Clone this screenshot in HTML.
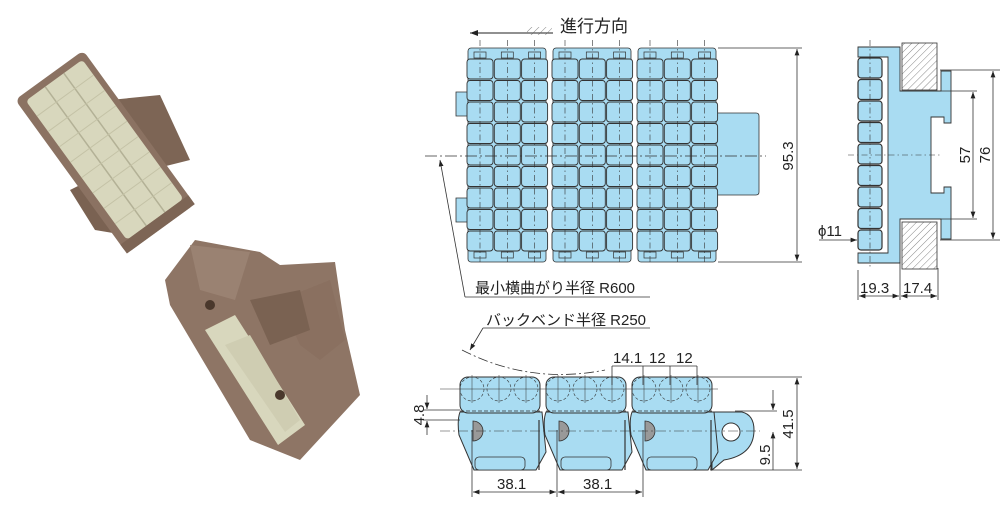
<!DOCTYPE html>
<html><head><meta charset="utf-8"><style>
html,body{margin:0;padding:0;background:#fff;width:1007px;height:512px;overflow:hidden}
svg{display:block}
text{font-family:"Liberation Sans","Noto Sans CJK JP",sans-serif;fill:#222}
</style></head><body>
<svg id="s" width="1007" height="512" viewBox="0 0 1007 512" xmlns="http://www.w3.org/2000/svg">
<defs>
<pattern id="h" width="5" height="5" patternUnits="userSpaceOnUse" patternTransform="rotate(45)"><line x1="0" y1="0" x2="0" y2="5" stroke="#555" stroke-width="0.7"/></pattern>
<marker id="a" markerWidth="8" markerHeight="6" refX="8" refY="3" orient="auto-start-reverse"><path d="M0,0 L8,3 L0,6z" fill="#222"/></marker>
</defs>
<!-- photo 1 -->
<polygon points="110,100 160,95 190,160 150,170" fill="#7d6555"/>
<polygon points="70,190 100,175 125,235 95,230" fill="#7a6252"/>
<g transform="translate(105,152) rotate(54)">
<rect x="-95" y="-42" width="190" height="84" rx="6" fill="#8b7262"/>
<rect x="-88" y="-36" width="172" height="70" rx="4" fill="#d8d7bd"/>
<g stroke="#b3b196" stroke-width="1.5">
<line x1="-88" y1="-13" x2="84" y2="-13"/><line x1="-88" y1="10" x2="84" y2="10"/>
</g>
<g id="rl" stroke="#c4c2a6" stroke-width="1"></g>
<rect x="84" y="-42" width="11" height="84" fill="#7d6555"/>
</g>
<!-- photo 2 -->
<g>
<polygon points="165,280 195,240 260,252 280,265 335,262 345,330 360,395 300,460 250,440 170,305" fill="#8e7565"/>
<polygon points="205,330 235,315 305,425 278,445" fill="#d8d7bd"/>
<polygon points="225,345 250,335 300,420 285,432" fill="#cfcdb2"/>
<polygon points="190,245 250,252 235,300 200,290" fill="#9a8272"/>
<polygon points="280,300 330,280 345,340 320,360 300,345" fill="#8a7060"/>
<polygon points="250,300 300,290 310,330 270,345" fill="#7a6252"/>
<circle cx="210" cy="305" r="5" fill="#4a382c"/><circle cx="280" cy="395" r="5" fill="#4a382c"/>
</g>
<g id="gtop"></g>
<g id="gside"></g>
<g id="gbot"></g>
<!-- top view annotations -->
<line x1="470" y1="33" x2="553" y2="33" stroke="#222" stroke-width="1" marker-start="url(#a)"/>
<rect x="527" y="27" width="25" height="8" fill="url(#h)"/>
<text x="560" y="32" font-size="17">進行方向</text>
<line x1="718" y1="48" x2="802" y2="48" stroke="#333" stroke-width="0.8"/>
<line x1="718" y1="262" x2="802" y2="262" stroke="#333" stroke-width="0.8"/>
<line x1="797" y1="49" x2="797" y2="261" stroke="#333" stroke-width="0.8" marker-start="url(#a)" marker-end="url(#a)"/>
<text transform="translate(793,156) rotate(-90)" font-size="15" text-anchor="middle">95.3</text>
<line x1="465" y1="297" x2="440" y2="160" stroke="#333" stroke-width="0.8" marker-end="url(#a)"/>
<line x1="465" y1="297" x2="650" y2="297" stroke="#333" stroke-width="0.8"/>
<text x="475" y="293" font-size="15">最小横曲がり半径 R600</text>
<!-- side annotations -->
<line x1="940" y1="70" x2="1000" y2="70" stroke="#333" stroke-width="0.8"/>
<line x1="940" y1="240" x2="1000" y2="240" stroke="#333" stroke-width="0.8"/>
<line x1="940" y1="91" x2="977" y2="91" stroke="#333" stroke-width="0.8"/>
<line x1="940" y1="219" x2="977" y2="219" stroke="#333" stroke-width="0.8"/>
<line x1="973" y1="92" x2="973" y2="218" stroke="#333" stroke-width="0.8" marker-start="url(#a)" marker-end="url(#a)"/>
<line x1="993" y1="71" x2="993" y2="239" stroke="#333" stroke-width="0.8" marker-start="url(#a)" marker-end="url(#a)"/>
<text transform="translate(970,155) rotate(-90)" font-size="15" text-anchor="middle">57</text>
<text transform="translate(990,155) rotate(-90)" font-size="15" text-anchor="middle">76</text>
<line x1="819" y1="240" x2="857" y2="240" stroke="#333" stroke-width="0.8" marker-end="url(#a)"/>
<text x="818" y="236" font-size="15">ϕ11</text>
<line x1="858" y1="270" x2="858" y2="300" stroke="#333" stroke-width="0.8"/>
<line x1="900" y1="262" x2="900" y2="300" stroke="#333" stroke-width="0.8"/>
<line x1="938" y1="268" x2="938" y2="300" stroke="#333" stroke-width="0.8"/>
<line x1="859" y1="296" x2="899" y2="296" stroke="#333" stroke-width="0.8" marker-start="url(#a)" marker-end="url(#a)"/>
<line x1="901" y1="296" x2="937" y2="296" stroke="#333" stroke-width="0.8" marker-start="url(#a)" marker-end="url(#a)"/>
<text x="860" y="293" font-size="15">19.3</text><text x="903" y="293" font-size="15">17.4</text>
<!-- bottom annotations -->
<text x="486" y="325" font-size="15">バックベンド半径 R250</text>
<line x1="483" y1="328" x2="650" y2="328" stroke="#333" stroke-width="0.8"/>
<line x1="483" y1="328" x2="470" y2="350" stroke="#333" stroke-width="0.8" marker-end="url(#a)"/>
<path d="M462,350 Q530,385 605,370" fill="none" stroke="#333" stroke-width="0.8" stroke-dasharray="10,3,2,3"/>
<text x="613" y="363" font-size="15">14.1</text><text x="649" y="363" font-size="15">12</text><text x="676" y="363" font-size="15">12</text>
<line x1="612" y1="366" x2="697" y2="366" stroke="#333" stroke-width="0.8"/>
<g stroke="#333" stroke-width="0.8"><line x1="612" y1="366" x2="612" y2="385"/><line x1="643" y1="366" x2="643" y2="385"/><line x1="670" y1="366" x2="670" y2="385"/><line x1="697" y1="366" x2="697" y2="385"/></g>
<line x1="700" y1="377" x2="802" y2="377" stroke="#333" stroke-width="0.8"/>
<line x1="710" y1="470" x2="802" y2="470" stroke="#333" stroke-width="0.8"/>
<line x1="797" y1="378" x2="797" y2="469" stroke="#333" stroke-width="0.8" marker-start="url(#a)" marker-end="url(#a)"/>
<text transform="translate(793,424) rotate(-90)" font-size="15" text-anchor="middle">41.5</text>
<line x1="735" y1="411" x2="777" y2="411" stroke="#333" stroke-width="0.8"/>
<line x1="773" y1="390" x2="773" y2="410" stroke="#333" stroke-width="0.8" marker-end="url(#a)"/>
<line x1="773" y1="470" x2="773" y2="432" stroke="#333" stroke-width="0.8" marker-end="url(#a)"/>
<text transform="translate(770,455) rotate(-90)" font-size="15" text-anchor="middle">9.5</text>
<line x1="423" y1="410" x2="460" y2="410" stroke="#333" stroke-width="0.8"/>
<line x1="423" y1="420" x2="460" y2="420" stroke="#333" stroke-width="0.8"/>
<line x1="427" y1="395" x2="427" y2="409" stroke="#333" stroke-width="0.8" marker-end="url(#a)"/>
<line x1="427" y1="435" x2="427" y2="421" stroke="#333" stroke-width="0.8" marker-end="url(#a)"/>
<text transform="translate(424,415) rotate(-90)" font-size="15" text-anchor="middle">4.8</text>
<g stroke="#333" stroke-width="0.8"><line x1="472" y1="430" x2="472" y2="497"/><line x1="557" y1="430" x2="557" y2="497"/><line x1="643" y1="430" x2="643" y2="497"/></g>
<line x1="473" y1="492" x2="556" y2="492" stroke="#333" stroke-width="0.8" marker-start="url(#a)" marker-end="url(#a)"/>
<line x1="558" y1="492" x2="642" y2="492" stroke="#333" stroke-width="0.8" marker-start="url(#a)" marker-end="url(#a)"/>
<text x="497" y="489" font-size="15">38.1</text><text x="583" y="489" font-size="15">38.1</text>
</svg>
<script>
(function(){
var NS="http://www.w3.org/2000/svg";
function el(p,t,a){var e=document.createElementNS(NS,t);for(var k in a)e.setAttribute(k,a[k]);p.appendChild(e);return e;}
var B="#a9dcf2",S="#333";
var rl=document.getElementById("rl");
for(var i=1;i<9;i++){el(rl,"line",{x1:-88+i*19,y1:-36,x2:-88+i*19,y2:34});}
var gt=document.getElementById("gtop");
el(gt,"path",{d:"M456,92 h12 v24 h-12z M456,198 h12 v24 h-12z",fill:B,stroke:S,"stroke-width":0.8});
el(gt,"path",{d:"M716,113 h40 q3,0 3,3 v76 q0,3 -3,3 h-40z",fill:B,stroke:S,"stroke-width":0.8});
[468,553,638].forEach(function(x0){
 el(gt,"rect",{x:x0,y:48,width:78,height:214,rx:3,fill:B,stroke:S,"stroke-width":0.8});
 for(var c=0;c<3;c++){
  var cx=x0-1+c*27.3;
  for(var r=0;r<9;r++){
   el(gt,"rect",{x:cx,y:59+r*21.5,width:26,height:20,rx:3,fill:B,stroke:S,"stroke-width":0.9});
  }
  el(gt,"rect",{x:cx+7,y:52,width:12,height:6,fill:B,stroke:S,"stroke-width":0.7});
  el(gt,"rect",{x:cx+7,y:252,width:12,height:6,fill:B,stroke:S,"stroke-width":0.7});
  el(gt,"line",{x1:cx+13,y1:40,x2:cx+13,y2:265,stroke:S,"stroke-width":0.6,"stroke-dasharray":"6,3,1.5,3"});
 }
});
el(gt,"line",{x1:425,y1:156,x2:766,y2:156,stroke:S,"stroke-width":0.7,"stroke-dasharray":"12,3,2,3"});
var sd=document.getElementById("gside");
el(sd,"rect",{x:902,y:43,width:35,height:47,fill:"url(#h)",stroke:S,"stroke-width":0.8});
el(sd,"rect",{x:902,y:222,width:35,height:47,fill:"url(#h)",stroke:S,"stroke-width":0.8});
el(sd,"path",{d:"M858,47 h42 v44 h41 v-20 h10 v52 h-7 v-6 h-13 v76 h13 v-6 h7 v52 h-10 v-20 h-41 v44 h-42 v-10 h30 v-196 h-30z",fill:B,stroke:S,"stroke-width":0.9});
for(var r=0;r<9;r++) el(sd,"rect",{x:858,y:58+r*21.5,width:24,height:20,rx:3,fill:B,stroke:S,"stroke-width":1.2});
el(sd,"line",{x1:870,y1:40,x2:870,y2:268,stroke:S,"stroke-width":0.6,"stroke-dasharray":"6,3,1.5,3"});
el(sd,"line",{x1:848,y1:155,x2:940,y2:155,stroke:S,"stroke-width":0.6,"stroke-dasharray":"6,3,1.5,3"});
var bt=document.getElementById("gbot");
el(bt,"path",{d:"M712,412 h30 q12,3 12,18 q0,25 -30,30 l-12,10z",fill:B,stroke:S,"stroke-width":1});
[460,546,632].forEach(function(x0){
 el(bt,"path",{d:"M"+x0+",412 h82 l4,40 l-10,18 h-62 l-15,-35 q-2,-15 1,-23z",fill:B,stroke:S,"stroke-width":1});
 el(bt,"rect",{x:x0,y:377,width:80,height:36,rx:8,fill:B,stroke:S,"stroke-width":1});
 el(bt,"line",{x1:x0,y1:411,x2:x0+80,y2:411,stroke:S,"stroke-width":0.7,"stroke-dasharray":"4,2"});
 for(var c=0;c<3;c++){el(bt,"circle",{cx:x0+12+c*27,cy:389,r:12,fill:"none",stroke:S,"stroke-width":0.6,"stroke-dasharray":"3,2"});
  el(bt,"line",{x1:x0+12+c*27,y1:375,x2:x0+12+c*27,y2:403,stroke:S,"stroke-width":0.5});}
 el(bt,"path",{d:"M"+(x0+13)+",421 a10,10 0 0 1 0,20z",fill:"#999",stroke:S,"stroke-width":0.8});
 el(bt,"rect",{x:x0+15,y:457,width:50,height:13,rx:4,fill:B,stroke:S,"stroke-width":0.8});
 el(bt,"line",{x1:x0+79,y1:420,x2:x0+79,y2:470,stroke:S,"stroke-width":1.2});
});
el(bt,"circle",{cx:731,cy:432,r:9,fill:"#fff",stroke:S,"stroke-width":1});
el(bt,"line",{x1:440,y1:389,x2:718,y2:389,stroke:S,"stroke-width":0.5});
el(bt,"line",{x1:440,y1:431,x2:760,y2:431,stroke:S,"stroke-width":0.6,"stroke-dasharray":"10,3,2,3"});
})();
</script>
</body></html>
